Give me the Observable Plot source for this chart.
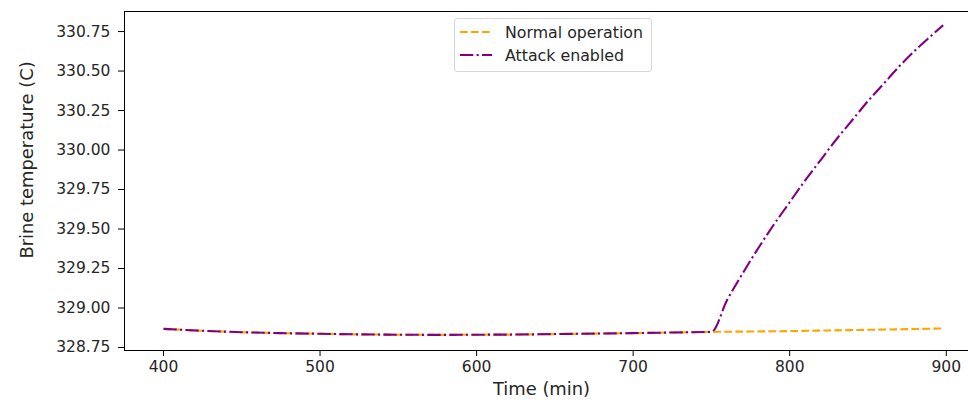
<!DOCTYPE html>
<html>
<head>
<meta charset="utf-8">
<script src="https://cdn.jsdelivr.net/npm/d3@7"></script>
<script src="https://cdn.jsdelivr.net/npm/@observablehq/plot@0.6"></script>
<style>
  body { margin: 0; background: #fff; }
  #wrap { position: relative; width: 968px; height: 400px; font-family: "DejaVu Sans", sans-serif; }
  #legend { position: absolute; left: 454px; top: 18px; width: 198px; height: 54px; border: 1px solid #d6d6d6; border-radius: 3px; background: rgba(255,255,255,0.8); box-sizing: border-box; font-size: 15.8px; color: #262626; }
  .row { position: absolute; left: 5px; height: 20px; display: flex; align-items: center; }
  .row svg { width: 32px; height: 10px; margin-right: 13px; }
</style>
</head>
<body>
<div id="wrap"><div id="chart"></div><div id="legend"></div></div>
<script>
// Normal operation (orange dashed)
const normalTime = [400,425,450,475,500,525,550,575,600,625,650,675,700,725,750,775,800,825,850,875,898];
const normalTemp = [328.868,328.856,328.847,328.841,328.837,328.833,328.831,328.830,328.831,328.832,328.835,328.838,328.841,328.845,328.849,328.851,328.854,328.858,328.862,328.866,328.871];
// Attack enabled (purple dash-dot)
const attackTime = [400,425,450,475,500,525,550,575,600,625,650,675,700,725,750,760,770,780,790,800,810,820,830,840,850,860,870,880,890,898];
const attackTemp = [328.868,328.856,328.847,328.841,328.837,328.833,328.831,328.830,328.831,328.832,328.835,328.838,328.841,328.845,328.849,329.05,329.22,329.38,329.53,329.67,329.81,329.94,330.07,330.19,330.31,330.42,330.53,330.63,330.72,330.79];
const xTicks = [400,500,600,700,800,900];
const yTicks = [328.75,329.00,329.25,329.50,329.75,330.00,330.25,330.50,330.75];
const xLabel = "Time (min)";
const yLabel = "Brine temperature (C)";
const seriesNames = ["Normal operation","Attack enabled"];
const seriesColors = ["#FFA500","#800080"];
const seriesDash = ["7.7,3.3","13.3,3.3,2.1,3.3"];

const normal = normalTime.map((t,i) => ({t, v: normalTemp[i]}));
const attack = attackTime.map((t,i) => ({t, v: attackTemp[i]}));

const chart = Plot.plot({
  width: 968,
  height: 400,
  marginLeft: 124,
  marginTop: 11,
  marginBottom: 50,
  marginRight: 0,
  style: {fontFamily: "DejaVu Sans, sans-serif", fontSize: "15px", color: "#262626", background: "transparent", overflow: "visible"},
  x: {domain: [375.1, 914.2]},
  y: {domain: [328.731, 330.877]},
  marks: [
    Plot.axisX({ticks: xTicks, tickSize: 6, tickPadding: 4, tickFormat: d3.format("d"), label: null, stroke: "#000", color: "#262626", fontSize: 15.5}),
    Plot.axisY({ticks: yTicks, tickSize: 6, tickPadding: 8, tickFormat: d3.format(".2f"), label: null, stroke: "#000", color: "#262626", fontSize: 15.5}),
    Plot.text([xLabel], {text: d => d, frameAnchor: "bottom", textAnchor: "middle", lineAnchor: "middle", dy: 39, dx: -5, fontSize: 17.9, fill: "#262626"}),
    Plot.text([yLabel], {text: d => d, frameAnchor: "left", rotate: -90, textAnchor: "middle", lineAnchor: "middle", dx: -97, dy: -21, fontSize: 17.9, fill: "#262626"}),
    Plot.line(normal, {x: "t", y: "v", stroke: seriesColors[0], strokeWidth: 2.1, strokeDasharray: seriesDash[0], strokeLinecap: "butt", curve: "monotone-x"}),
    Plot.line(attack, {x: "t", y: "v", stroke: seriesColors[1], strokeWidth: 2.1, strokeDasharray: seriesDash[1], strokeLinecap: "butt", curve: "monotone-x"}),
    Plot.frame({anchor: "left", stroke: "#000", strokeWidth: 1}),
    Plot.frame({anchor: "bottom", stroke: "#000", strokeWidth: 1}),
    Plot.frame({anchor: "top", stroke: "#000", strokeWidth: 1})
  ]
});
document.getElementById("chart").appendChild(chart);

const legend = document.getElementById("legend");
seriesNames.forEach((name, i) => {
  const row = document.createElement("div");
  row.className = "row";
  row.style.top = (3 + i * 23) + "px";
  row.innerHTML = `<svg viewBox="0 0 32 10"><line x1="0" y1="5" x2="32" y2="5" stroke="${seriesColors[i]}" stroke-width="2.1" stroke-dasharray="${seriesDash[i]}"/></svg><span>${name}</span>`;
  legend.appendChild(row);
});
</script>
</body>
</html>
